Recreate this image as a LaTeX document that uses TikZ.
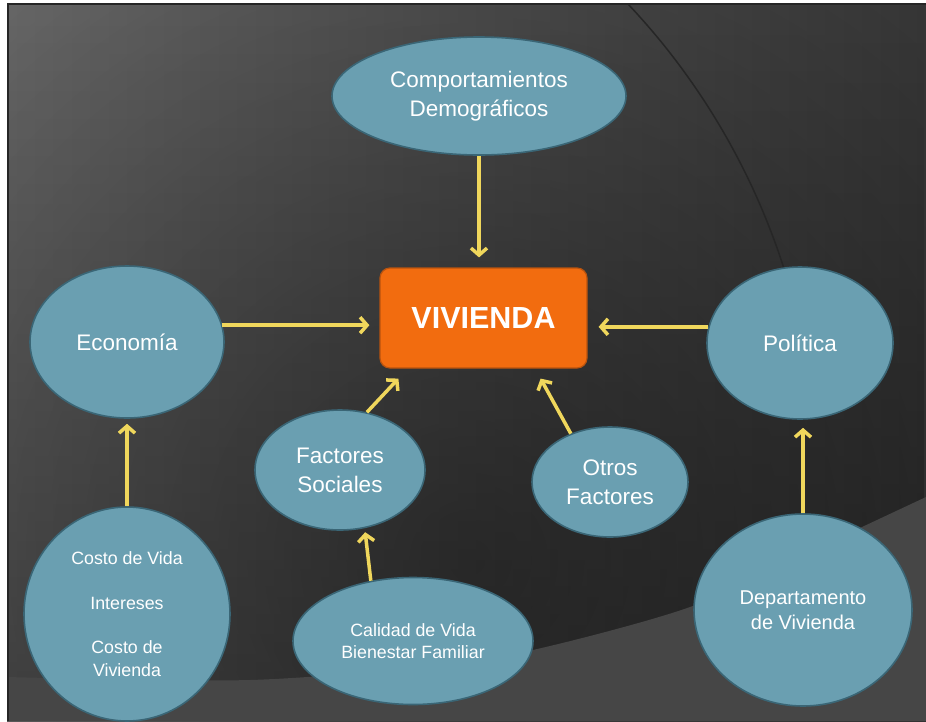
\documentclass[tikz,border=0pt]{standalone}
\usepackage{fontspec}
\setmainfont{Liberation Sans}
\usetikzlibrary{shapes.geometric,arrows.meta,fadings}
\definecolor{bubblefill}{HTML}{6A9FB1}
\definecolor{bubbleline}{HTML}{3A6676}
\definecolor{vivorange}{HTML}{F26C0F}
\definecolor{vivline}{HTML}{B9530E}
\definecolor{linkyellow}{HTML}{F0D75C}
\definecolor{bgleft}{HTML}{6C6C6C}
\definecolor{bgright}{HTML}{3A3A3A}
\definecolor{bandgray}{HTML}{464646}
\definecolor{arcgray}{HTML}{262626}
\tikzfading[name=fadedisc, inner color=transparent!0, outer color=transparent!100]
\tikzfading[name=fadedown, top color=transparent!100, bottom color=transparent!0]

\begin{document}
\begin{tikzpicture}[x=1pt,y=-1pt]
\tikzset{bubble/.style={ellipse, draw=bubbleline, line width=1.6pt, fill=bubblefill, text=white, align=center, inner sep=0pt}}
\tikzset{bigtext/.style={font=\fontsize{22.5}{29}\selectfont}}
\tikzset{smalltext/.style={font=\fontsize{17.8}{22.5}\selectfont}}
\tikzset{link/.style={draw=linkyellow, line width=3.5pt, -{Straight Barb[length=7pt,width=16pt]}}}
\useasboundingbox (0,0) rectangle (926,721);
\fill[white] (0,0) rectangle (926,721);
\begin{scope}
\clip (7,3) rectangle (926,721);
\shade[left color=bgleft, right color=bgright] (7,3) rectangle (926,721);
\fill[black, opacity=0.3, path fading=fadedown] (7,3) rectangle (926,721);
\fill[black, opacity=0.36, path fading=fadedisc] (470,560) circle (840);
\draw[arcgray, line width=1.5pt] plot[domain=46:12, samples=40, smooth] ({123+694*cos(\x)},{480-694*sin(\x)});
\fill[bandgray] plot[smooth] coordinates {(7,677) (250,680) (450,664) (550,646) (690,607) (800,556) (926,497)} -- (926,721) -- (7,721) -- cycle;
\end{scope}
\draw[arcgray, line width=2pt] (8,721) -- (8,4) -- (926,4);

\node[bubble, bigtext, minimum width=294pt, minimum height=118pt] (demo) at (479,96) {Comportamientos\\Demográficos};
\node[rectangle, rounded corners=10pt, fill=vivorange, draw=vivline, line width=1.2pt, text=white, minimum width=207pt, minimum height=100pt, font=\fontsize{30.5}{36}\selectfont\bfseries] (viv) at (483.5,318) {VIVIENDA};
\node[bubble, bigtext, minimum width=194pt, minimum height=152pt] (econ) at (127,342) {Economía};
\node[bubble, bigtext, minimum width=186pt, minimum height=152pt] (pol) at (800,343) {Política};
\node[bubble, smalltext, minimum width=206pt, minimum height=214pt] (costo) at (127,614) {Costo de Vida\\[22pt]Intereses\\[22pt]Costo de\\Vivienda};
\node[bubble, bigtext, minimum width=170pt, minimum height=120pt] (fsoc) at (340,470) {Factores\\Sociales};
\node[bubble, bigtext, minimum width=156pt, minimum height=110pt] (otros) at (610,482) {Otros\\Factores};
\node[bubble, smalltext, minimum width=240pt, minimum height=127pt] (calidad) at (413,641) {Calidad de Vida\\Bienestar Familiar};
\node[bubble, font=\fontsize{20}{25}\selectfont, minimum width=218pt, minimum height=192pt] (depto) at (803,610) {Departamento\\de Vivienda};

\draw[link, shorten >=10pt] (demo.south) -- (demo.south |- viv.north);
\draw[link, shorten >=10pt] (econ.10) -- (econ.10 -| viv.west);
\draw[link, shorten >=11pt] (pol.170) -- (pol.170 -| viv.east);
\draw[link] (fsoc.65) -- ([xshift=19pt,yshift=-10pt]viv.south west);
\draw[link] (otros.129) -- ([xshift=-47pt,yshift=-10pt]viv.south east);
\draw[link, shorten >=5pt] (costo.north) -- (econ.south);
\draw[link, shorten >=4pt] (calidad.125) -- (fsoc.-67);
\draw[link, shorten >=8pt] (depto.north) -- (depto.north |- pol.south);
\end{tikzpicture}
\end{document}
